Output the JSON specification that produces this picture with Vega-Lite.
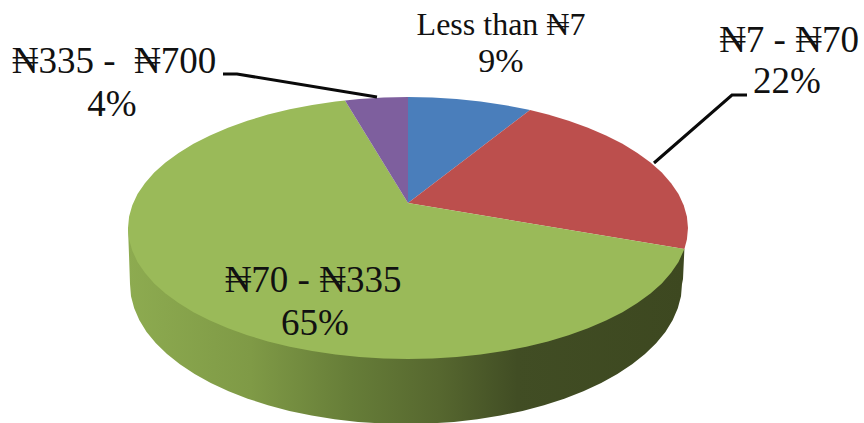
{
  "$schema": "https://vega.github.io/schema/vega-lite/v6.json",
  "width": 864,
  "height": 423,
  "autosize": {"type": "fit", "contains": "padding"},
  "padding": 0,
  "background": "white",
  "view": {"stroke": null},
  "projection": {"type": "identity", "scale": 1, "translate": [0, 0]},
  "datasets": {
    "labels": [
      {"slice": "Less than ₦7", "share": 0.09, "x": 501, "y": 25, "pctX": 501, "pctY": 62},
      {"slice": "₦7 - ₦70", "share": 0.22, "x": 789, "y": 41, "pctX": 787, "pctY": 82},
      {"slice": "₦70 - ₦335", "share": 0.65, "x": 313, "y": 281, "pctX": 315, "pctY": 324},
      {"slice": "₦335 - \u00a0₦700", "share": 0.04, "x": 114, "y": 62, "pctX": 112, "pctY": 105}
    ],
    "leaders": [
      {"slice": "₦335 - \u00a0₦700", "x": 223, "y": 74},
      {"slice": "₦335 - \u00a0₦700", "x": 237, "y": 74},
      {"slice": "₦335 - \u00a0₦700", "x": 377, "y": 97},
      {"slice": "₦7 - ₦70", "x": 747, "y": 95},
      {"slice": "₦7 - ₦70", "x": 732, "y": 95},
      {"slice": "₦7 - ₦70", "x": 654, "y": 163}
    ]
  },
  "layer": [
    {
      "description": "Side wall of the disc, lit from the left",
      "data": {"values": [
        {"type": "Feature", "properties": {"part": "wall"}, "geometry": {"type": "Polygon", "coordinates": [[
          [684.4,249],[683,279],[682,284],[681,296.2],[677.8,308.3],[672.6,320.2],[665.4,331.9],[656.1,343.2],[645,354],[632.1,364.3],[617.4,374],[601.2,383],[583.4,391.2],[564.3,398.7],[544,405.2],[522.6,410.9],[500.4,415.6],[477.4,419.2],[453.9,421.9],[430.1,423.5],[406,424],[381.9,423.5],[358.1,421.9],[334.6,419.2],[311.6,415.6],[289.4,410.9],[268,405.2],[247.7,398.7],[228.6,391.2],[210.8,383],[194.6,374],[179.9,364.3],[167,354],[155.9,343.2],[146.6,331.9],[139.4,320.2],[134.2,308.3],[131,296.2],[130,284],[129,255],[128,228],[684.4,249]
        ]]}}
      ]},
      "mark": {
        "type": "geoshape",
        "stroke": null,
        "fill": {
          "gradient": "linear", "x1": 0, "y1": 0, "x2": 1, "y2": 0,
          "stops": [
            {"offset": 0, "color": "#8dab50"},
            {"offset": 0.22, "color": "#7f9a46"},
            {"offset": 0.4, "color": "#667d38"},
            {"offset": 0.56, "color": "#56672f"},
            {"offset": 0.7, "color": "#414d24"},
            {"offset": 1, "color": "#3d4820"}
          ]
        }
      }
    },
    {
      "description": "Top face, one wedge per price band",
      "data": {"values": [
        {"type": "Feature", "properties": {"slice": "Less than ₦7", "share": 0.09}, "geometry": {"type": "Polygon", "coordinates": [[
          [408,203],[408,97],[432.4,97.5],[456.6,99],[480.5,101.5],[503.8,104.9],[526.3,109.3],[530,110.1],[408,203]
        ]]}},
        {"type": "Feature", "properties": {"slice": "₦7 - ₦70", "share": 0.22}, "geometry": {"type": "Polygon", "coordinates": [[
          [408,203],[530,110.1],[548,114.6],[568.6,120.7],[588,127.7],[606,135.4],[622.5,143.8],[637.4,152.9],[650.5,162.5],[661.8,172.6],[671.1,183.2],[678.5,194.1],[683.7,205.3],[686.9,216.6],[688,228],[686.9,239.4],[684.4,249],[408,203]
        ]]}},
        {"type": "Feature", "properties": {"slice": "₦70 - ₦335", "share": 0.65}, "geometry": {"type": "Polygon", "coordinates": [[
          [408,203],[684.4,249],[678.5,261.9],[671.1,272.8],[661.8,283.4],[650.5,293.5],[637.4,303.1],[622.5,312.2],[606,320.6],[588,328.3],[568.6,335.3],[548,341.4],[526.3,346.7],[503.8,351.1],[480.5,354.5],[456.6,357],[432.4,358.5],[408,359],[383.6,358.5],[359.4,357],[335.5,354.5],[312.2,351.1],[289.7,346.7],[268,341.4],[247.4,335.3],[228,328.3],[210,320.6],[193.5,312.2],[178.6,303.1],[165.5,293.5],[154.2,283.4],[144.9,272.8],[137.5,261.9],[132.3,250.7],[129.1,239.4],[128,228],[129.1,216.6],[132.3,205.3],[137.5,194.1],[144.9,183.2],[154.2,172.6],[165.5,162.5],[178.6,152.9],[193.5,143.8],[210,135.4],[228,127.7],[247.4,120.7],[268,114.6],[289.7,109.3],[312.2,104.9],[335.5,101.5],[345,100.4],[408,203]
        ]]}},
        {"type": "Feature", "properties": {"slice": "₦335 - \u00a0₦700", "share": 0.04}, "geometry": {"type": "Polygon", "coordinates": [[
          [408,203],[345,100.4],[359.4,99],[383.6,97.5],[408,97],[408,203]
        ]]}}
      ]},
      "mark": {"type": "geoshape", "stroke": null},
      "encoding": {
        "color": {
          "field": "properties.slice",
          "type": "nominal",
          "legend": null,
          "scale": {
            "domain": ["Less than ₦7", "₦7 - ₦70", "₦70 - ₦335", "₦335 - \u00a0₦700"],
            "range": ["#4a7ebb", "#bc4f4d", "#9aba59", "#7e5f9e"]
          }
        }
      }
    },
    {
      "description": "Leader lines for the two outside labels",
      "data": {"name": "leaders"},
      "mark": {"type": "line", "color": "#0a0a0a", "strokeWidth": 3},
      "encoding": {
        "longitude": {"field": "x", "type": "quantitative"},
        "latitude": {"field": "y", "type": "quantitative"},
        "detail": {"field": "slice", "type": "nominal"}
      }
    },
    {
      "data": {"name": "labels"},
      "transform": [{"filter": "datum.slice !== 'Less than ₦7'"}],
      "layer": [
        {
          "mark": {"type": "text", "font": "Liberation Serif", "fontSize": 37, "color": "#111111", "align": "center", "baseline": "middle"},
          "encoding": {
            "longitude": {"field": "x", "type": "quantitative"},
            "latitude": {"field": "y", "type": "quantitative"},
            "text": {"field": "slice", "type": "nominal"}
          }
        },
        {
          "mark": {"type": "text", "font": "Liberation Serif", "fontSize": 37, "color": "#111111", "align": "center", "baseline": "middle"},
          "encoding": {
            "longitude": {"field": "pctX", "type": "quantitative"},
            "latitude": {"field": "pctY", "type": "quantitative"},
            "text": {"field": "share", "type": "quantitative", "format": ".0%"}
          }
        }
      ]
    },
    {
      "data": {"name": "labels"},
      "transform": [{"filter": "datum.slice === 'Less than ₦7'"}],
      "layer": [
        {
          "mark": {"type": "text", "font": "Liberation Serif", "fontSize": 32, "color": "#111111", "align": "center", "baseline": "middle"},
          "encoding": {
            "longitude": {"field": "x", "type": "quantitative"},
            "latitude": {"field": "y", "type": "quantitative"},
            "text": {"field": "slice", "type": "nominal"}
          }
        },
        {
          "mark": {"type": "text", "font": "Liberation Serif", "fontSize": 34, "color": "#111111", "align": "center", "baseline": "middle"},
          "encoding": {
            "longitude": {"field": "pctX", "type": "quantitative"},
            "latitude": {"field": "pctY", "type": "quantitative"},
            "text": {"field": "share", "type": "quantitative", "format": ".0%"}
          }
        }
      ]
    }
  ]
}
